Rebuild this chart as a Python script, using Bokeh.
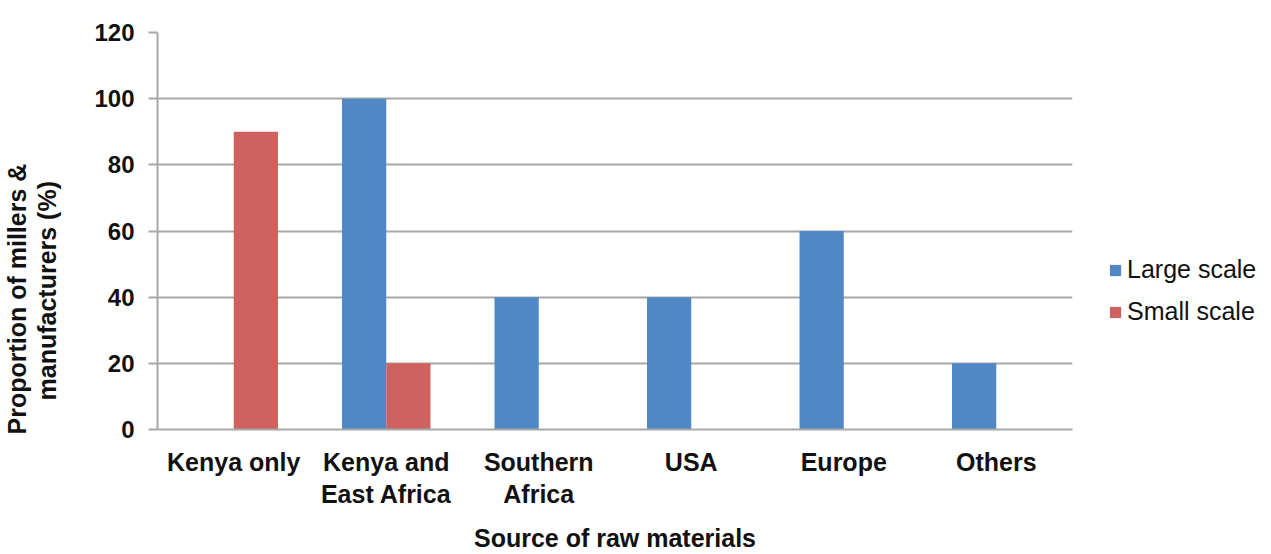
from bokeh.plotting import figure
from bokeh.layouts import row
from bokeh.models import ColumnDataSource, FactorRange, Range1d, Legend, LegendItem, Title
from bokeh.transform import dodge
from bokeh.embed import file_html
from bokeh.resources import INLINE

categories = ["Kenya only", "Kenya and\nEast Africa", "Southern\nAfrica", "USA", "Europe", "Others"]
large_scale = [0, 100, 40, 40, 60, 20]
small_scale = [90, 20, 0, 0, 0, 0]
y_ticks = [0, 20, 40, 60, 80, 100, 120]
series_names = ["Large scale", "Small scale"]
y_title_lines = ["Proportion of millers &", "manufacturers (%)"]

src = ColumnDataSource(dict(cat=categories, large=large_scale, small=small_scale))

FONT = "Liberation Sans"
BLUE = "#4F88C4"
RED = "#CF625E"
GRID = "#A8A8A8"
TXT = "#111111"

p = figure(width=1090, height=554, x_range=FactorRange(*categories, range_padding=0),
           y_range=Range1d(0, 120), output_backend="svg", toolbar_location=None,
           min_border_left=157, min_border_right=18, min_border_top=32, min_border_bottom=124)

p.vbar(x=dodge("cat", -0.145, range=p.x_range), top="large", width=0.29, source=src,
       fill_color=BLUE, line_color=None)
p.vbar(x=dodge("cat", 0.145, range=p.x_range), top="small", width=0.29, source=src,
       fill_color=RED, line_color=None)

p.outline_line_color = None
p.xgrid.grid_line_color = None
p.ygrid.grid_line_color = GRID
p.ygrid.grid_line_width = 2
p.ygrid.level = "underlay"

p.yaxis.ticker = y_ticks
p.yaxis.axis_line_color = GRID
p.yaxis.axis_line_width = 2
p.yaxis.major_tick_line_color = GRID
p.yaxis.major_tick_line_width = 2
p.yaxis.major_tick_out = 9
p.yaxis.major_tick_in = 0
p.yaxis.minor_tick_line_color = None
p.yaxis.major_label_text_font = FONT
p.yaxis.major_label_text_font_style = "bold"
p.yaxis.major_label_text_font_size = "24px"
p.yaxis.major_label_text_color = TXT
p.yaxis.major_label_standoff = 14

# y-axis title as two rotated lines, separated from the tick labels by a blank spacer
spacer = Title(text=" ", text_font_size="2px", standoff=27)
t2 = Title(text=y_title_lines[1], align="left", offset=29,
           text_font=FONT, text_font_style="bold", text_font_size="25px",
           text_color=TXT, standoff=0, text_line_height=1.0)
t1 = Title(text=y_title_lines[0], align="left", offset=-5,
           text_font=FONT, text_font_style="bold", text_font_size="25px",
           text_color=TXT, standoff=0, text_line_height=0.9)
p.add_layout(spacer, "left")
p.add_layout(t2, "left")
p.add_layout(t1, "left")

p.xaxis.axis_line_color = GRID
p.xaxis.axis_line_width = 2
p.xaxis.major_tick_line_color = None
p.xaxis.minor_tick_line_color = None
p.xaxis.major_label_text_font = FONT
p.xaxis.major_label_text_font_style = "bold"
p.xaxis.major_label_text_font_size = "25px"
p.xaxis.major_label_text_line_height = 1.15
p.xaxis.major_label_text_color = TXT
p.xaxis.major_label_standoff = 12
p.xaxis.axis_label = "Source of raw materials"
p.xaxis.axis_label_text_font = FONT
p.xaxis.axis_label_text_font_style = "bold"
p.xaxis.axis_label_text_font_size = "25px"
p.xaxis.axis_label_text_color = TXT
p.xaxis.axis_label_standoff = 13

# legend-only panel on the right (zero-width bars, so only the legend shows)
q = figure(width=181, height=554, output_backend="svg", toolbar_location=None,
           min_border_left=0, min_border_right=0, min_border_top=0, min_border_bottom=0,
           x_range=p.x_range, y_range=Range1d(0, 120))
q.axis.visible = False
q.grid.visible = False
q.outline_line_color = None
k1 = q.vbar(x=dodge("cat", -0.145, range=p.x_range), top="large", width=0, source=src,
            fill_color=BLUE, line_color=None)
k2 = q.vbar(x=dodge("cat", 0.145, range=p.x_range), top="small", width=0, source=src,
            fill_color=RED, line_color=None)
legend = Legend(items=[LegendItem(label=series_names[0], renderers=[k1], index=0),
                       LegendItem(label=series_names[1], renderers=[k2], index=0)],
                location=(18, 103), border_line_color=None, background_fill_alpha=0,
                label_text_font=FONT, label_text_font_size="25px", label_text_color=TXT,
                glyph_width=14, glyph_height=14, label_standoff=5, spacing=13, padding=0,
                margin=0)
q.add_layout(legend, "center")

layout = row(p, q, spacing=0)
open("out.html", "w").write(file_html(layout, INLINE))
